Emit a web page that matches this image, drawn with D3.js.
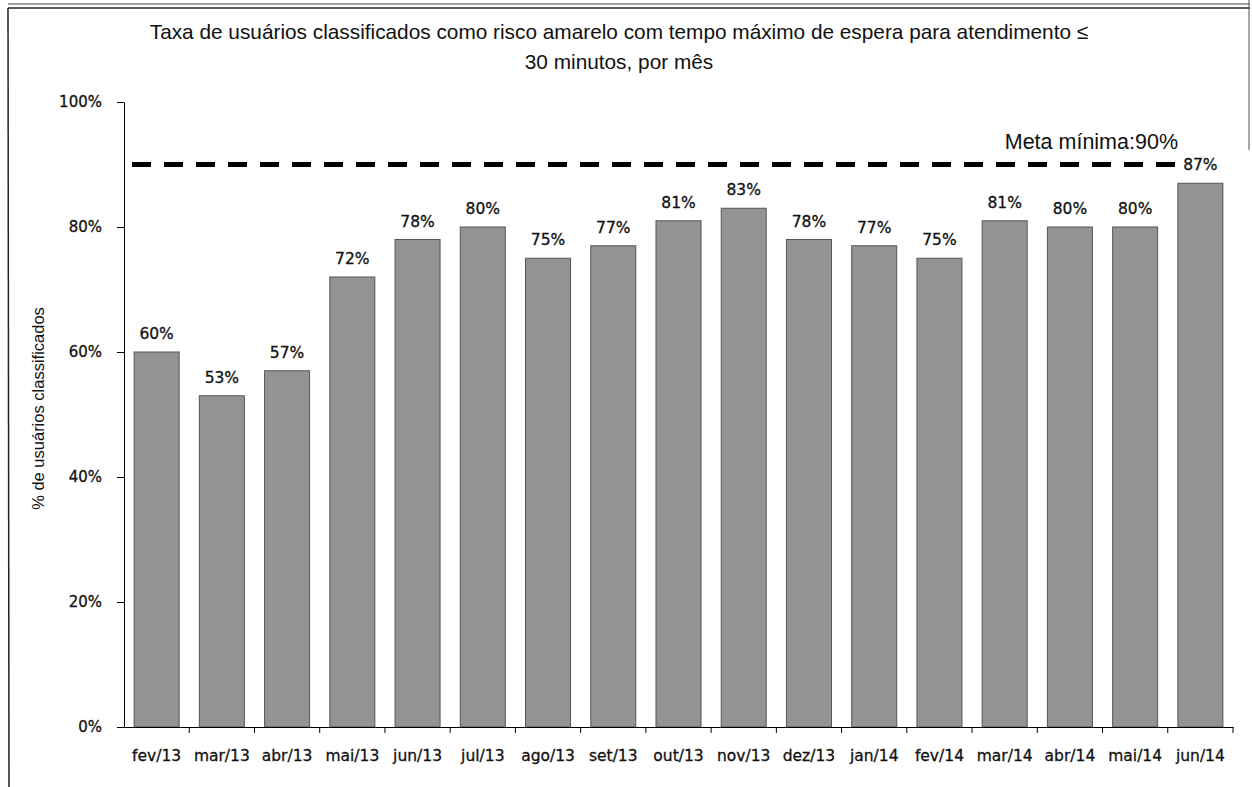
<!DOCTYPE html>
<html>
<head>
<meta charset="utf-8">
<script src="https://cdn.jsdelivr.net/npm/d3@7"></script>
<style>
  html, body { margin: 0; padding: 0; background: #fff; }
  svg { display: block; }
</style>
</head>
<body>
<svg id="chart" width="1252" height="787"></svg>
<script>
const categories = ["fev/13","mar/13","abr/13","mai/13","jun/13","jul/13","ago/13","set/13","out/13","nov/13","dez/13","jan/14","fev/14","mar/14","abr/14","mai/14","jun/14"];
const values = [60,53,57,72,78,80,75,77,81,83,78,77,75,81,80,80,87];
const yTicks = [0,20,40,60,80,100];
const target = 90;
const titleLines = ["Taxa de usuários classificados  como risco amarelo com tempo máximo de espera para atendimento ≤", "30 minutos, por mês"];
const yTitle = "% de usuários classificados";
const targetLabel = "Meta mínima:90%";

const svg = d3.select("#chart");
const plot = { left: 124, right: 1233, top: 102, bottom: 727 };

// frame
svg.append("line").attr("x1", 8).attr("x2", 1250).attr("y1", 4).attr("y2", 4).attr("stroke", "#444").attr("stroke-width", 1);
svg.append("line").attr("x1", 8).attr("x2", 1250).attr("y1", 8).attr("y2", 8).attr("stroke", "#222").attr("stroke-width", 1.5);
svg.append("line").attr("x1", 8).attr("x2", 9).attr("y1", 8).attr("y2", 787).attr("stroke", "#222").attr("stroke-width", 1.5);
svg.append("line").attr("x1", 1249).attr("x2", 1249).attr("y1", 0).attr("y2", 150).attr("stroke", "#555").attr("stroke-width", 1);

const x = d3.scaleBand().domain(categories).range([plot.left, plot.right]).paddingInner(0.31).paddingOuter(0.155);
const y = d3.scaleLinear().domain([0, 100]).range([plot.bottom, plot.top]);

// title
const title = svg.append("text").attr("text-anchor", "middle")
  .attr("font-family", "Liberation Sans, Arial, sans-serif").attr("font-size", 20.8).attr("fill", "#111");
titleLines.forEach((t, i) => {
  title.append("tspan").attr("x", 619).attr("y", 39 + i * 30).text(t);
});

// bars
svg.append("g").selectAll("rect").data(values).join("rect")
  .attr("x", (d, i) => x(categories[i]))
  .attr("y", d => y(d))
  .attr("width", x.bandwidth())
  .attr("height", d => y(0) - y(d))
  .attr("fill", "#939393")
  .attr("stroke", "#555")
  .attr("stroke-width", 1);

// value labels
svg.append("g").selectAll("text").data(values).join("text")
  .attr("x", (d, i) => x(categories[i]) + x.bandwidth() / 2)
  .attr("y", d => y(d) - 13)
  .attr("text-anchor", "middle")
  .attr("font-family", "DejaVu Sans, Verdana, sans-serif")
  .attr("font-size", 15.5)
  .attr("fill", "#111")
  .attr("stroke", "#111").attr("stroke-width", 0.3)
  .text(d => d + "%");

// target line
svg.append("line")
  .attr("x1", 132).attr("x2", 1186)
  .attr("y1", y(target)).attr("y2", y(target))
  .attr("stroke", "#000").attr("stroke-width", 5)
  .attr("stroke-dasharray", "19,13");

svg.append("text")
  .attr("x", 1178).attr("y", 149)
  .attr("text-anchor", "end")
  .attr("font-family", "Liberation Sans, Arial, sans-serif")
  .attr("font-size", 21.5)
  .attr("fill", "#111")
  .text(targetLabel);

// y axis
const yAxis = d3.axisLeft(y).tickValues(yTicks).tickFormat(d => d + "%").tickSize(7).tickSizeOuter(0);
const gy = svg.append("g").attr("transform", `translate(${plot.left},0)`).call(yAxis);
gy.select(".domain").attr("stroke", "#000");
gy.selectAll(".tick line").attr("stroke", "#000");
gy.selectAll(".tick text").attr("font-family", "DejaVu Sans, Verdana, sans-serif").attr("font-size", 15)
  .attr("fill", "#111").attr("stroke", "#111").attr("stroke-width", 0.3).attr("x", -22);

// x axis
const xAxis = d3.axisBottom(x).tickSize(0).tickSizeOuter(0);
const gx = svg.append("g").attr("transform", `translate(0,${plot.bottom})`).call(xAxis);
gx.select(".domain").attr("stroke", "#000");
gx.selectAll(".tick text").attr("font-family", "DejaVu Sans, Verdana, sans-serif").attr("font-size", 15.5)
  .attr("fill", "#111").attr("stroke", "#111").attr("stroke-width", 0.3).attr("dy", 0).attr("y", 34);
// band boundary ticks
const step = x.step();
const edges = categories.map((c, i) => plot.left + step * (i + 1));
svg.append("g").selectAll("line").data(edges).join("line")
  .attr("x1", d => d).attr("x2", d => d)
  .attr("y1", plot.bottom).attr("y2", plot.bottom + 6)
  .attr("stroke", "#000");

// y title
svg.append("text")
  .attr("transform", `translate(44,${(plot.top + plot.bottom) / 2 - 6}) rotate(-90)`)
  .attr("text-anchor", "middle")
  .attr("font-family", "Liberation Sans, Arial, sans-serif")
  .attr("font-size", 16.5)
  .attr("fill", "#111")
  .text(yTitle);
</script>
</body>
</html>
